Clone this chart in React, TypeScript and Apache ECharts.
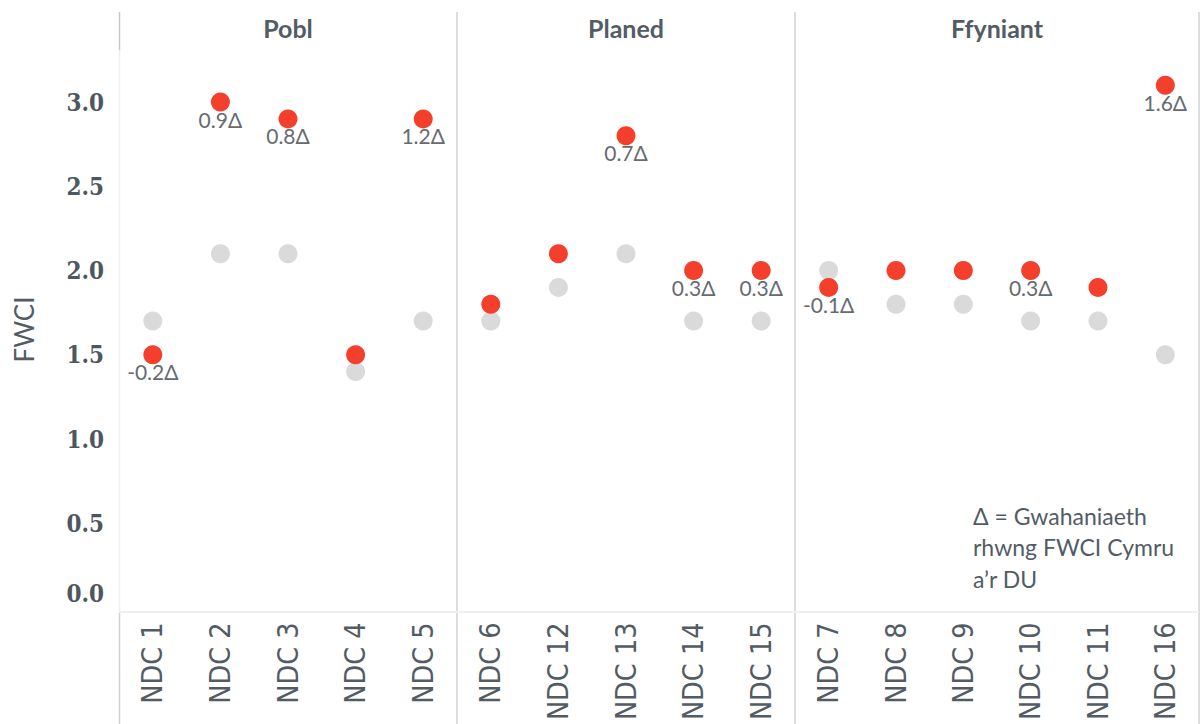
import React, { useEffect, useRef } from 'react';
import * as echarts from 'echarts';

const panelTitles = ['Pobl', 'Planed', 'Ffyniant'];

const poblCats = ['NDC 1', 'NDC 2', 'NDC 3', 'NDC 4', 'NDC 5'];
const poblWales = [1.5, 3.0, 2.9, 1.5, 2.9];
const poblUK = [1.7, 2.1, 2.1, 1.4, 1.7];
const poblDelta = [-0.2, 0.9, 0.8, null, 1.2];

const planedCats = ['NDC 6', 'NDC 12', 'NDC 13', 'NDC 14', 'NDC 15'];
const planedWales = [1.8, 2.1, 2.8, 2.0, 2.0];
const planedUK = [1.7, 1.9, 2.1, 1.7, 1.7];
const planedDelta = [null, null, 0.7, 0.3, 0.3];

const ffyCats = ['NDC 7', 'NDC 8', 'NDC 9', 'NDC 10', 'NDC 11', 'NDC 16'];
const ffyWales = [1.9, 2.0, 2.0, 2.0, 1.9, 3.1];
const ffyUK = [2.0, 1.8, 1.8, 1.7, 1.7, 1.5];
const ffyDelta = [-0.1, null, null, 0.3, null, 1.6];

const yTicks = [0, 0.5, 1.0, 1.5, 2.0, 2.5, 3.0];
const yAxisName = 'FWCI';
const noteLines = ['Δ = Gwahaniaeth', 'rhwng FWCI Cymru', 'a’r DU'];

const panels = [
  { cats: poblCats, wales: poblWales, uk: poblUK, delta: poblDelta },
  { cats: planedCats, wales: planedWales, uk: planedUK, delta: planedDelta },
  { cats: ffyCats, wales: ffyWales, uk: ffyUK, delta: ffyDelta },
];

const W = 1203;
const H = 724;
const lefts = [119, 457, 795];
const widths = [338, 338, 404];
const plotTop = 51.5;
const plotBottom = 607.5;
const TEXT = '#535c65';
const SANS = 'Lato, "Open Sans", sans-serif';

export default function App() {
  const ref = useRef<HTMLDivElement>(null);

  useEffect(() => {
    document.body.style.margin = '0';
    if (!ref.current) return;
    const chart = echarts.init(ref.current, undefined, { renderer: 'svg' });

    const grids = panels.map((_, i) => ({
      left: lefts[i],
      width: widths[i],
      top: plotTop,
      bottom: H - plotBottom,
      containLabel: false,
    }));

    const xAxes = panels.map((p, i) => ({
      type: 'category',
      gridIndex: i,
      data: p.cats,
      boundaryGap: true,
      axisLine: { show: false },
      axisTick: { show: false },
      splitLine: { show: false },
      axisLabel: {
        rotate: 90,
        margin: 15,
        interval: 0,
        fontFamily: '"DejaVu Sans Condensed", "DejaVu Sans", sans-serif',
        fontSize: 28.5,
        color: TEXT,
      },
    }));

    const yAxes = panels.map((_, i) => ({
      type: 'value',
      gridIndex: i,
      min: 0,
      max: 3.3,
      interval: 0.5,
      axisLine: { show: false },
      axisTick: { show: false },
      splitLine: { show: false },
      name: i === 0 ? yAxisName : '',
      nameLocation: 'middle',
      nameRotate: 90,
      nameGap: 82,
      nameTextStyle: { fontFamily: SANS, fontSize: 26, color: TEXT },
      axisLabel: {
        show: i === 0,
        margin: 15,
        fontFamily: '"DejaVu Serif Condensed", "DejaVu Serif", serif',
        fontWeight: 'bold',
        fontSize: 24,
        lineHeight: 28,
        color: '#4e5760',
        formatter: (v: number) => {
          const t = yTicks.find((k) => Math.abs(k - v) < 1e-6);
          if (t === undefined) return '';
          return t === 0 ? t.toFixed(1) + '\n ' : t.toFixed(1);
        },
      },
    }));

    const series: any[] = [];
    panels.forEach((p, i) => {
      series.push({
        type: 'scatter',
        name: 'DU',
        xAxisIndex: i,
        yAxisIndex: i,
        symbolSize: 19,
        itemStyle: { color: '#dadada', opacity: 1 },
        z: 2,
        data: p.uk.map((v, j) => [p.cats[j], v]),
      });
      series.push({
        type: 'scatter',
        name: 'Cymru',
        xAxisIndex: i,
        yAxisIndex: i,
        symbolSize: 19,
        itemStyle: { color: '#f43f2c', opacity: 1 },
        z: 3,
        label: {
          position: 'bottom',
          distance: -3,
          fontFamily: SANS,
          fontSize: 21,
          color: '#666b70',
        },
        data: p.wales.map((v, j) => {
          const d = p.delta[j];
          return {
            value: [p.cats[j], v],
            label: d === null ? { show: false } : { show: true, formatter: d.toFixed(1) + 'Δ' },
          };
        }),
      });
    });

    const lineStyleDark = { stroke: '#d0d0d0', lineWidth: 1.5 };
    const graphic: any[] = [
      { type: 'line', shape: { x1: 119.5, y1: 12, x2: 119.5, y2: 50 }, style: { stroke: '#c8c8c8', lineWidth: 1.5 } },
      { type: 'line', shape: { x1: 119.5, y1: 50, x2: 119.5, y2: 612 }, style: { stroke: '#f0f0f0', lineWidth: 1.5 } },
      { type: 'line', shape: { x1: 119.5, y1: 612, x2: 119.5, y2: H }, style: lineStyleDark },
      { type: 'line', shape: { x1: 457, y1: 12, x2: 457, y2: H }, style: lineStyleDark },
      { type: 'line', shape: { x1: 795, y1: 12, x2: 795, y2: H }, style: lineStyleDark },
      { type: 'line', shape: { x1: 1199, y1: 12, x2: 1199, y2: H }, style: lineStyleDark },
      { type: 'line', shape: { x1: 119, y1: 612, x2: 1199, y2: 612 }, style: { stroke: '#f0f0f0', lineWidth: 2 } },
    ];
    panelTitles.forEach((t, i) => {
      graphic.push({
        type: 'text',
        x: lefts[i] + widths[i] / 2,
        y: 28,
        style: {
          text: t,
          align: 'center',
          verticalAlign: 'middle',
          fontFamily: SANS,
          fontWeight: 'bold',
          fontSize: 25,
          fill: TEXT,
        },
      });
    });
    graphic.push({
      type: 'text',
      x: 973,
      y: 500,
      style: {
        text: noteLines.join('\n'),
        align: 'left',
        verticalAlign: 'top',
        fontFamily: SANS,
        fontSize: 23,
        lineHeight: 31.5,
        fill: TEXT,
      },
    });

    chart.setOption({
      animation: false,
      backgroundColor: '#ffffff',
      grid: grids,
      xAxis: xAxes,
      yAxis: yAxes,
      series,
      graphic,
    });

    return () => chart.dispose();
  }, []);

  return <div ref={ref} style={{ width: W, height: H }} />;
}
